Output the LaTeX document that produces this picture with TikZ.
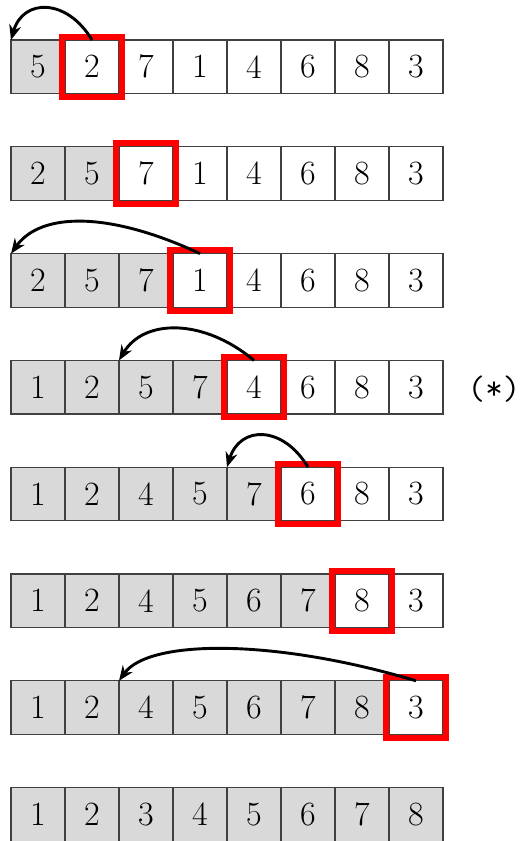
\documentclass[tikz,border=0pt]{standalone}
\usepackage{fontspec}
\usetikzlibrary{arrows.meta}
\definecolor{cellgray}{HTML}{D9D9D9}
\definecolor{celledge}{HTML}{404040}
\tikzset{
  cellbox/.style={draw=celledge, line width=1.2pt, minimum width=54pt, minimum height=53.5pt,
    inner sep=0pt, outer sep=0pt, anchor=north west, font=\fontsize{34}{34}\selectfont},
  redbox/.style={draw=red, line width=6pt},
  movearrow/.style={line width=2.9pt, -{Stealth[length=15pt,width=12pt]}}
}
\begin{document}
\begin{tikzpicture}[x=1pt,y=-1pt]
\useasboundingbox (0,0) rectangle (523,841);
\foreach \rowvals [count=\rr from 0] in {{5,2,7,1,4,6,8,3},{2,5,7,1,4,6,8,3},{2,5,7,1,4,6,8,3},{1,2,5,7,4,6,8,3},{1,2,4,5,7,6,8,3},{1,2,4,5,6,7,8,3},{1,2,4,5,6,7,8,3},{1,2,3,4,5,6,7,8}} {
  \foreach \v [count=\ii from 0] in \rowvals {
    \ifnum\ii>\rr \def\fc{white}\else\def\fc{cellgray}\fi
    \node[cellbox, fill=\fc] (c-\rr-\ii) at ({11+54*\ii},{40+106.8*\rr}) {\v};
  }
  \ifnum\rr<7
    \pgfmathtruncatemacro{\nx}{\rr+1}
    \draw[redbox] ([shift={(-3,-3.5)}]c-\rr-\nx.north west) rectangle ([shift={(3,3.5)}]c-\rr-\nx.south east);
  \fi
}
\draw[movearrow] (c-0-1.north) .. controls +(-25,-42) and +(12,-42) .. (c-0-0.north west);
\draw[movearrow] (c-2-3.north) .. controls +(-90,-42) and +(30,-42) .. (c-2-0.north west);
\draw[movearrow] (c-3-4.north) .. controls +(-50,-42) and +(25,-42) .. (c-3-2.north west);
\draw[movearrow] (c-4-5.north) .. controls +(-25,-42) and +(13,-42) .. (c-4-4.north west);
\draw[movearrow] (c-6-7.north) .. controls +(-140,-42) and +(30,-42) .. (c-6-2.north west);
\node[inner sep=0pt, font=\ttfamily\fontsize{34}{34}\selectfont] (star) at (494,389) {(*)};
\end{tikzpicture}
\end{document}
